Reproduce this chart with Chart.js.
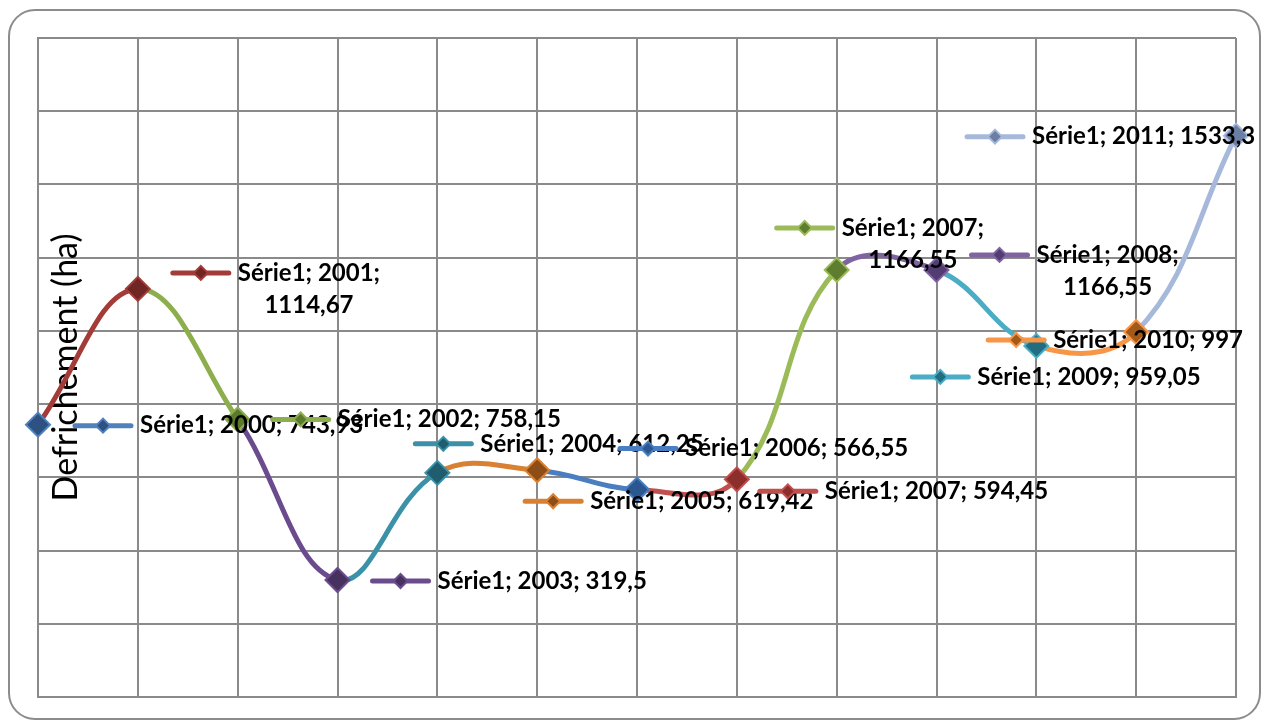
<!DOCTYPE html>
<html>
<head>
<meta charset="utf-8">
<title>Defrichement</title>
<script src="https://cdn.jsdelivr.net/npm/chart.js@4.4.1/dist/chart.umd.min.js"></script>
<style>
  html, body { margin: 0; padding: 0; background: #fff; }
  #wrap { width: 1262px; height: 721px; }
</style>
</head>
<body>
<div id="wrap"><canvas id="defrichChart" width="1262" height="721"></canvas></div>
<script>
// data
const seriesName = 'Série1';
const years = ['2000', '2001', '2002', '2003', '2004', '2005', '2006', '2007', '2007', '2008', '2009', '2010', '2011'];
const surfaces = [743.93, 1114.67, 758.15, 319.5, 612.25, 619.42, 566.55, 594.45, 1166.55, 1166.55, 959.05, 997, 1533.3];
const yMin = 0;
const yMax = 1800;
const yStep = 200;

// one colour per point (Excel "vary colours by point")
const lineColors = ['#4f81bd', '#a33c39', '#8cae4c', '#6a4c8e', '#3a91a8', '#d98133',
                    '#4a7ec0', '#c0504d', '#9bbb59', '#8064a2', '#4bacc6', '#f79646', '#a7b9db'];
const markerColors = ['#2d5282', '#702624', '#5c7a2c', '#47315f', '#1f5d6f', '#8c4e16',
                      '#2b5791', '#8c2f2c', '#5f7d2e', '#523c72', '#236d82', '#a35a19', '#6a7fa3'];

// where each data label sits, relative to its point (key start / key centre line)
const labelDx = [37, 35, 35, 35, -22, -12, -17, 23, -60, 35, -124, -148, -269];
const labelDy = [1, -16, 0, 1, -29, 31, -41, 12, -42, -15, 31, 8, 1];
const labelWrap = [false, true, false, false, false, false, false, false, true, true, false, false, false];

const fmt = v => String(v).replace('.', ',');

const drawDiamond = (ctx, x, y, r, fill, stroke) => {
    ctx.beginPath();
    ctx.moveTo(x - r, y);
    ctx.lineTo(x, y - r);
    ctx.lineTo(x + r, y);
    ctx.lineTo(x, y + r);
    ctx.closePath();
    ctx.fillStyle = fill;
    ctx.fill();
    ctx.lineWidth = 2;
    ctx.strokeStyle = stroke;
    ctx.stroke();
};

// rounded frame around the whole chart
const frame = {
    id: 'frame',
    beforeDraw(chart) {
        const { ctx } = chart;
        ctx.save();
        ctx.fillStyle = '#fff';
        ctx.fillRect(0, 0, chart.width, chart.height);
        ctx.strokeStyle = '#8c8c8c';
        ctx.lineWidth = 2;
        ctx.beginPath();
        ctx.roundRect(9, 10, 1251, 709, 26);
        ctx.stroke();
        ctx.restore();
    }
};

// axis title sits inside the plot area in the original
const axisTitle = {
    id: 'axisTitle',
    beforeDatasetsDraw(chart) {
        const { ctx, chartArea } = chart;
        ctx.save();
        ctx.translate(66, (chartArea.top + chartArea.bottom) / 2);
        ctx.rotate(-Math.PI / 2);
        ctx.font = '34px Lato';
        ctx.fillStyle = '#000';
        ctx.textAlign = 'center';
        ctx.textBaseline = 'middle';
        ctx.fillText('Defrichement (ha)', 0, 0);
        ctx.restore();
    }
};

// data labels with legend keys
const pointLabels = {
    id: 'pointLabels',
    afterDatasetsDraw(chart) {
        const { ctx } = chart;
        const meta = chart.getDatasetMeta(0);
        ctx.save();
        ctx.font = 'bold 24px Lato';
        ctx.textBaseline = 'middle';
        meta.data.forEach((pt, i) => {
            const kx = pt.x + labelDx[i];
            const ky = pt.y + labelDy[i];
            ctx.strokeStyle = lineColors[i];
            ctx.lineWidth = 5;
            ctx.lineCap = 'round';
            ctx.beginPath();
            ctx.moveTo(kx, ky);
            ctx.lineTo(kx + 56, ky);
            ctx.stroke();
            drawDiamond(ctx, kx + 28, ky, 7, markerColors[i], lineColors[i]);

            const tx = kx + 65;
            ctx.fillStyle = '#000';
            if (labelWrap[i]) {
                const first = `${seriesName}; ${years[i]};`;
                ctx.textAlign = 'left';
                ctx.fillText(first, tx, ky);
                const w = ctx.measureText(first).width;
                ctx.textAlign = 'center';
                ctx.fillText(fmt(surfaces[i]), tx + w / 2, ky + 32);
            } else {
                ctx.textAlign = 'left';
                ctx.fillText(`${seriesName}; ${years[i]}; ${fmt(surfaces[i])}`, tx, ky);
            }
        });
        ctx.restore();
    }
};

const ctx = document.getElementById('defrichChart').getContext('2d');
new Chart(ctx, {
    type: 'line',
    data: {
        labels: years,
        datasets: [{
            label: seriesName,
            data: surfaces,
            borderColor: lineColors[0],
            borderWidth: 5,
            tension: 0.4,
            segment: {
                borderColor: c => lineColors[c.p1DataIndex]
            },
            pointStyle: 'rectRot',
            pointRadius: 12,
            pointBorderWidth: 2,
            pointBackgroundColor: markerColors,
            pointBorderColor: lineColors
        }]
    },
    options: {
        responsive: false,
        devicePixelRatio: 1,
        animation: false,
        events: [],
        layout: { padding: { left: 38, top: 38, right: 26, bottom: 24 } },
        plugins: {
            legend: { display: false },
            tooltip: { enabled: false }
        },
        scales: {
            x: {
                offset: false,
                ticks: { display: false },
                grid: { color: '#8a8a8a', lineWidth: 2, drawTicks: false },
                border: { color: '#8a8a8a', width: 2 }
            },
            y: {
                min: yMin,
                max: yMax,
                ticks: { display: false, stepSize: yStep },
                grid: { color: '#8a8a8a', lineWidth: 2, drawTicks: false },
                border: { color: '#8a8a8a', width: 2 }
            }
        }
    },
    plugins: [frame, axisTitle, pointLabels]
});
</script>
</body>
</html>
